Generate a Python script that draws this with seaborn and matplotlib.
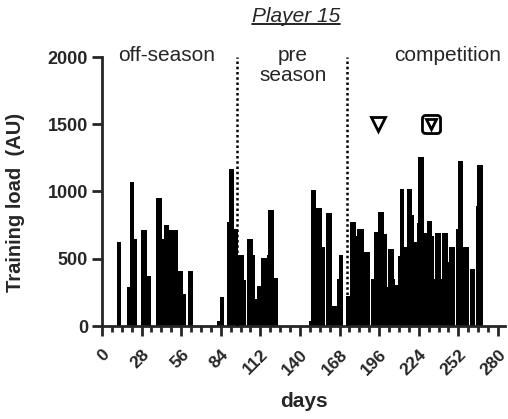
import numpy as np
import pandas as pd
import seaborn as sns
import matplotlib.pyplot as plt
from matplotlib.ticker import MultipleLocator
from matplotlib.lines import Line2D
from matplotlib.path import Path

sns.set_style('ticks')
plt.rcParams['font.family'] = ['Liberation Sans', 'DejaVu Sans']

# daily training load, day 0 .. 280 (14 days per row)
load = [
    0, 0, 0, 0, 0, 0, 0, 0, 0, 0, 0, 625, 625, 625,
    0, 0, 0, 0, 290, 290, 1073, 1073, 1073, 650, 650, 0, 0, 0,
    712, 712, 712, 712, 370, 370, 370, 0, 0, 0, 0, 954, 954, 954,
    954, 650, 751, 751, 751, 751, 712, 712, 712, 712, 712, 712, 409, 409,
    409, 409, 240, 240, 0, 409, 409, 409, 409, 0, 0, 0, 0, 0,
    0, 0, 0, 0, 0, 0, 0, 0, 0, 0, 0, 0, 37, 37,
    216, 216, 216, 0, 0, 773, 1165, 1165, 1165, 1165, 719, 719, 719, 525,
    525, 525, 525, 342, 0, 650, 650, 650, 650, 525, 525, 198, 297, 297,
    297, 508, 508, 508, 508, 525, 860, 860, 860, 860, 354, 354, 354, 0,
    0, 0, 0, 0, 0, 0, 0, 0, 0, 0, 0, 0, 0, 0,
    0, 0, 0, 0, 0, 0, 0, 40, 1013, 1013, 1013, 1013, 880, 880,
    880, 880, 587, 587, 0, 840, 840, 840, 840, 147, 147, 147, 147, 350,
    527, 527, 527, 0, 0, 223, 223, 223, 775, 775, 775, 775, 669, 719,
    719, 719, 719, 719, 550, 550, 550, 550, 0, 347, 347, 697, 697, 697,
    850, 850, 850, 850, 684, 684, 292, 570, 570, 570, 570, 347, 305, 305,
    520, 1016, 1016, 1016, 587, 587, 1016, 1016, 1016, 1016, 825, 627, 627, 768,
    1257, 1257, 1257, 1257, 694, 694, 780, 780, 780, 780, 669, 347, 694, 694,
    694, 694, 347, 694, 694, 694, 694, 478, 587, 587, 587, 587, 0, 719,
    1229, 1229, 1229, 1229, 587, 587, 587, 587, 0, 426, 426, 426, 0, 892,
    1195, 1195, 1195, 1195, 0, 0, 0, 0, 0, 0, 0, 0, 0, 0,
    0,
]
days = list(range(len(load)))

x_ticks = list(range(0, 281, 28))
y_ticks = [0, 500, 1000, 1500, 2000]

phase_lines = [95.5, 173.5]
phase_names = ['off-season', 'pre\nseason', 'competition']
phase_centers = [46, 135, 244.5]

tri_days = [195, 233]
tri_sizes = [10.5, 7.5]
sq_days = [233]
marker_load = 1500

df = pd.DataFrame({'day': days, 'load': load})

# rounded square marker
r = 0.35
rsq = Path(
    [(-1 + r, -1), (1 - r, -1), (1, -1), (1, -1 + r), (1, 1 - r), (1, 1), (1 - r, 1),
     (-1 + r, 1), (-1, 1), (-1, 1 - r), (-1, -1 + r), (-1, -1), (-1 + r, -1)],
    [Path.MOVETO, Path.LINETO, Path.CURVE3, Path.CURVE3, Path.LINETO, Path.CURVE3, Path.CURVE3,
     Path.LINETO, Path.CURVE3, Path.CURVE3, Path.LINETO, Path.CURVE3, Path.CURVE3])

fig = plt.figure(figsize=(5.08, 4.19), dpi=100)
ax = fig.add_axes([102 / 508, 1 - 326 / 419, 403 / 508, 269 / 419])

sns.barplot(data=df, x='day', y='load', native_scale=True, width=1,
            color='black', linewidth=0, errorbar=None, ax=ax)

for d in phase_lines:
    ax.plot([d, d], [0, 2000], color='black', lw=1.8, linestyle=(0, (1, 1.1)), zorder=3)

for name, c in zip(phase_names, phase_centers):
    ax.text(c, 2085, name, ha='center', va='top', fontsize=15, linespacing=1.1)

for d, s in zip(tri_days, tri_sizes):
    ax.plot(d, marker_load, marker='v', ms=s, mfc='white', mec='black', mew=2, zorder=4)
for d in sq_days:
    ax.plot(d, marker_load, marker=rsq, ms=13, mfc='none', mec='black', mew=2, zorder=4)

ax.set_xlim(0, 285)
ax.set_ylim(0, 2000)
ax.set_xticks(x_ticks)
ax.xaxis.set_minor_locator(MultipleLocator(7))
ax.set_yticks(y_ticks)
ax.set_xticklabels([str(t) for t in x_ticks], rotation=45,
                   ha='right', rotation_mode='anchor', fontweight='bold', fontsize=12.5)
ax.set_yticklabels([str(t) for t in y_ticks], fontweight='bold', fontsize=13)
ax.tick_params(axis='both', which='major', length=7, width=2, pad=3)
ax.tick_params(axis='x', which='major', pad=8)
ax.tick_params(axis='x', which='minor', length=4, width=2)

sns.despine(ax=ax)
ax.spines['left'].set_linewidth(2)
ax.spines['bottom'].set_linewidth(2)
ax.spines['left'].set_bounds(0, 2000)

ax.set_xlabel('days', fontweight='bold', fontsize=15)
ax.set_ylabel('Training load  (AU)', fontweight='bold', fontsize=14.5)
ax.xaxis.set_label_coords(0.5, -0.245)
ax.yaxis.set_label_coords(-0.19, 0.46)

t = fig.text(296 / 508, 1 - 16 / 419, 'Player 15', style='italic', fontsize=15,
             ha='center', va='center')
fig.canvas.draw()
bb = t.get_window_extent().transformed(fig.transFigure.inverted())
fig.add_artist(Line2D([bb.x0, bb.x1], [bb.y0 + 0.004, bb.y0 + 0.004],
                      transform=fig.transFigure, color='black', lw=1.2))

fig.savefig('out.png', dpi=100)
